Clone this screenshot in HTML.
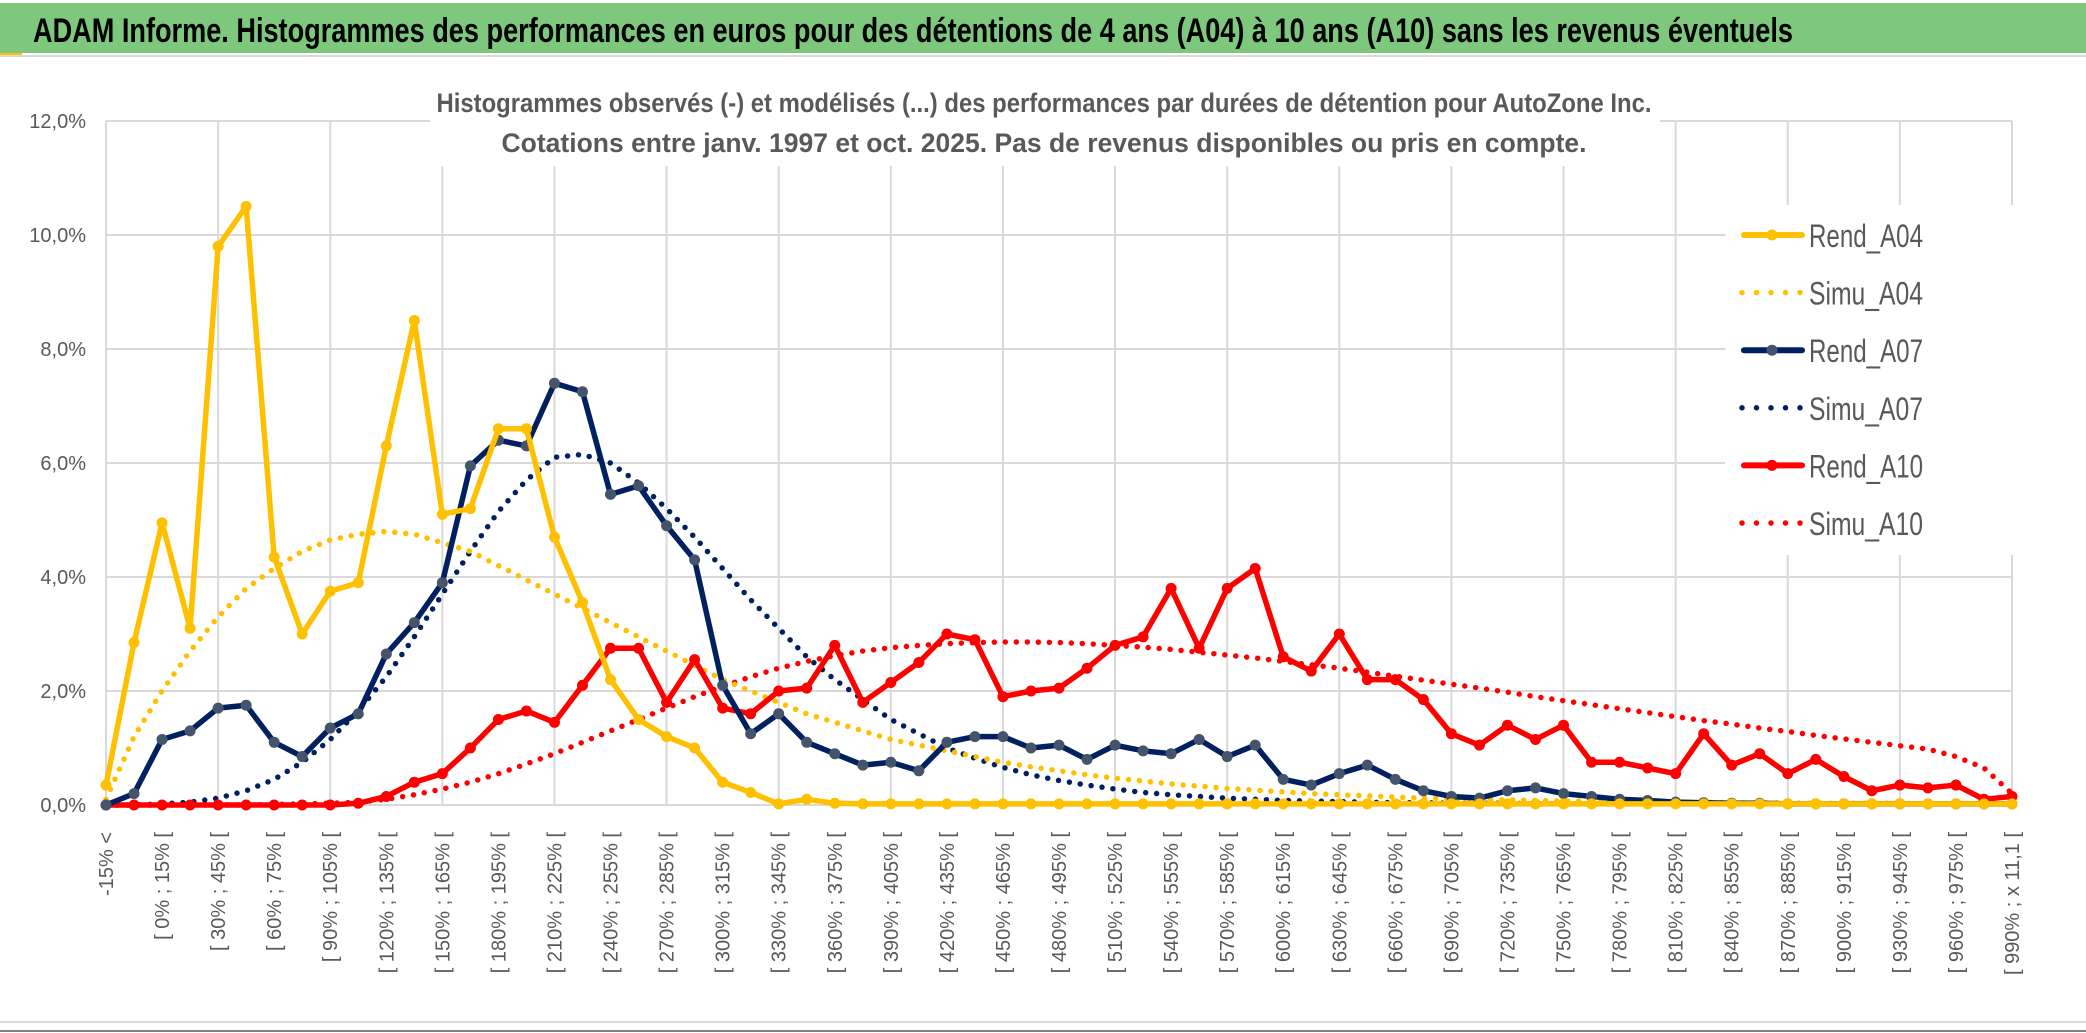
<!DOCTYPE html>
<html><head><meta charset="utf-8"><style>
html,body{margin:0;padding:0;background:#fff}
svg{display:block}
text{font-family:"Liberation Sans",sans-serif}
</style></head><body>
<svg id="chart" width="2086" height="1033" viewBox="0 0 2086 1033" xmlns="http://www.w3.org/2000/svg">
<rect x="0" y="0" width="2086" height="1033" fill="#fff"/>
<rect x="0" y="3" width="2086" height="50" fill="#7dc87d"/>
<rect x="0" y="53" width="22" height="3" fill="#ffc000"/>
<line x1="0" y1="56" x2="2086" y2="56" stroke="#d9d9d9" stroke-width="2"/>
<text x="33" y="42" font-size="34" font-weight="bold" fill="#000" textLength="1760" lengthAdjust="spacingAndGlyphs">ADAM Informe. Histogrammes des performances en euros pour des détentions de 4 ans (A04) à 10 ans (A10) sans les revenus éventuels</text>
<g id="grid"></g>
<rect x="430" y="76" width="1230" height="90" fill="#fff"/>
<rect x="1725" y="205" width="320" height="350" fill="#fff"/>
<text x="1044" y="112" font-size="27" font-weight="bold" fill="#595959" text-anchor="middle" textLength="1215" lengthAdjust="spacingAndGlyphs">Histogrammes observés (-) et modélisés (...) des performances par durées de détention pour AutoZone Inc.</text>
<text x="1044" y="152" font-size="27" font-weight="bold" fill="#595959" text-anchor="middle" textLength="1085" lengthAdjust="spacingAndGlyphs">Cotations entre janv. 1997 et oct. 2025. Pas de revenus disponibles ou pris en compte.</text>
<g id="yaxis"></g>
<g id="xaxis"></g>
<g id="series"></g>
<g id="legend"></g>
<line x1="0" y1="1022" x2="2086" y2="1022" stroke="#d9d9d9" stroke-width="2"/>
<line x1="0" y1="1031" x2="2086" y2="1031" stroke="#808080" stroke-width="2"/>
</svg>
<script>
const yTicks = [0,2,4,6,8,10,12];
const rendA04 = [0.35,2.85,4.95,3.1,9.8,10.5,4.35,3.0,3.75,3.9,6.3,8.5,5.1,5.2,6.6,6.6,4.7,3.55,2.2,1.5,1.2,1.0,0.4,0.22,0.02,0.1,0.03,0.02,0.02,0.02,0.02,0.02,0.02,0.02,0.02,0.02,0.02,0.02,0.02,0.02,0.02,0.02,0.02,0.02,0.02,0.02,0.02,0.02,0.02,0.02,0.02,0.02,0.02,0.02,0.02,0.02,0.02,0.02,0.02,0.02,0.02,0.02,0.02,0.02,0.02,0.02,0.02,0.02,0.02];
const simuA04 = [0.1,1.2,2.0,2.7,3.3,3.8,4.15,4.45,4.65,4.75,4.8,4.75,4.6,4.45,4.2,3.95,3.7,3.45,3.2,2.95,2.7,2.45,2.2,2.0,1.8,1.6,1.45,1.3,1.15,1.05,0.95,0.85,0.75,0.67,0.6,0.53,0.47,0.42,0.37,0.33,0.29,0.26,0.23,0.2,0.18,0.16,0.14,0.12,0.11,0.1,0.09,0.08,0.07,0.07,0.06,0.06,0.05,0.05,0.04,0.04,0.04,0.03,0.03,0.03,0.03,0.02,0.02,0.02,0.02];
const rendA07 = [0.0,0.2,1.15,1.3,1.7,1.75,1.1,0.85,1.35,1.6,2.65,3.2,3.9,5.95,6.4,6.3,7.4,7.25,5.45,5.6,4.9,4.3,2.1,1.25,1.6,1.1,0.9,0.7,0.75,0.6,1.1,1.2,1.2,1.0,1.05,0.8,1.05,0.95,0.9,1.15,0.85,1.05,0.45,0.35,0.55,0.7,0.45,0.25,0.15,0.12,0.25,0.3,0.2,0.15,0.1,0.08,0.05,0.04,0.03,0.03,0.02,0.02,0.02,0.02,0.02,0.02,0.02,0.02,0.02];
const simuA07 = [0,0,0.02,0.05,0.12,0.25,0.45,0.75,1.15,1.65,2.25,2.95,3.7,4.45,5.15,5.7,6.1,6.15,6.0,5.65,5.2,4.7,4.15,3.6,3.1,2.6,2.2,1.85,1.5,1.25,1.0,0.82,0.66,0.53,0.43,0.35,0.28,0.22,0.18,0.15,0.12,0.1,0.08,0.07,0.06,0.05,0.04,0.04,0.03,0.03,0.03,0.02,0.02,0.02,0.02,0.02,0.02,0.02,0.02,0.02,0.02,0.02,0.02,0.02,0.02,0.02,0.02,0.02,0.02];
const rendA10 = [0,0,0,0,0,0,0,0,0,0.03,0.15,0.4,0.55,1.0,1.5,1.65,1.45,2.1,2.75,2.75,1.8,2.55,1.7,1.6,2.0,2.05,2.8,1.8,2.15,2.5,3.0,2.9,1.9,2.0,2.05,2.4,2.8,2.95,3.8,2.75,3.8,4.15,2.6,2.35,3.0,2.2,2.2,1.85,1.25,1.05,1.4,1.15,1.4,0.75,0.75,0.65,0.55,1.25,0.7,0.9,0.55,0.8,0.5,0.25,0.35,0.3,0.35,0.1,0.15];
const simuA10 = [0,0,0,0,0,0,0.01,0.02,0.03,0.05,0.1,0.18,0.28,0.4,0.55,0.72,0.9,1.1,1.3,1.5,1.7,1.9,2.08,2.25,2.4,2.52,2.62,2.7,2.76,2.8,2.83,2.85,2.86,2.86,2.85,2.83,2.8,2.77,2.73,2.68,2.63,2.58,2.52,2.46,2.4,2.33,2.26,2.19,2.12,2.05,1.98,1.9,1.83,1.76,1.69,1.62,1.55,1.48,1.42,1.35,1.29,1.22,1.16,1.1,1.04,0.98,0.85,0.65,0.2];
const categories = (function(){const c=['-15% <','[ -15% ; 0% ['];for(let s=0;s<990;s+=15)c.push('[ '+s+'% ; '+(s+15)+'% [');c.push('[ 990% ; x 11,1 [');return c;})();

const NS='http://www.w3.org/2000/svg';
const X0=106, X1=2012, Y0=805, Y1=121, YMAX=12;
const n=categories.length;
function xs(i){return X0+(X1-X0)*i/(n-1);}
function ys(v){return Y0-(Y0-Y1)*v/YMAX;}
function mk(tag,attrs,parent){const e=document.createElementNS(NS,tag);for(const k in attrs)e.setAttribute(k,attrs[k]);parent.appendChild(e);return e;}
const grid=document.getElementById('grid');
yTicks.forEach(t=>{
  const l=mk('line',{x1:X0,x2:X1,y1:ys(t),y2:ys(t),stroke:'#d9d9d9','stroke-width':2},grid);
  
  
});
for(let i=0;i<n;i+=4){
  const l=mk('line',{x1:xs(i),x2:xs(i),y1:Y1,y2:Y0,stroke:'#d9d9d9','stroke-width':2},grid);
  
  
}
const ya=document.getElementById('yaxis');
yTicks.forEach(t=>{
  const tx=mk('text',{x:86,y:ys(t)+7,'font-size':20,fill:'#595959','text-anchor':'end'},ya);
  tx.textContent=t.toFixed(1).replace('.',',')+'%';
  
  
});
const xa=document.getElementById('xaxis');
for(let i=0;i<n;i+=2){
  const x=xs(i)+7, y=832;
  const tx=mk('text',{x:x,y:y,'font-size':20,fill:'#595959','text-anchor':'end',transform:'rotate(-90 '+x+' '+y+')'},xa);
  tx.textContent=categories[i];
  
  
}
const sg=document.getElementById('series');
function drawSim(data,color,name){
  const pts=data.map((v,i)=>xs(i)+','+ys(v)).join(' ');
  const p=mk('polyline',{points:pts,fill:'none',stroke:color,'stroke-width':5.5,'stroke-linecap':'round','stroke-dasharray':'0 11'},sg);
  
  
}
function drawRend(data,color,mcol,name){
  const pts=data.map((v,i)=>xs(i)+','+ys(v)).join(' ');
  const p=mk('polyline',{points:pts,fill:'none',stroke:color,'stroke-width':5.5,'stroke-linejoin':'round'},sg);
  
  
  data.forEach((v,i)=>{
    const c=mk('circle',{cx:xs(i),cy:ys(v),r:5.5,fill:mcol},sg);
    
    
  });
}
drawSim(simuA10,'#ff0000','simu-a10');
drawSim(simuA07,'#002060','simu-a07');
drawSim(simuA04,'#ffc000','simu-a04');
drawRend(rendA10,'#ff0000','#ff0000','rend-a10');
drawRend(rendA07,'#002060','#44546a','rend-a07');
drawRend(rendA04,'#ffc000','#ffc000','rend-a04');
const lg=document.getElementById('legend');
const entries=[['Rend_A04','#ffc000','#ffc000',false],['Simu_A04','#ffc000',null,true],['Rend_A07','#002060','#44546a',false],['Simu_A07','#002060',null,true],['Rend_A10','#ff0000','#ff0000',false],['Simu_A10','#ff0000',null,true]];
entries.forEach((e,k)=>{
  const y=235+57.6*k;
  const g=mk('g',{},lg);
  
  
  if(e[3]){
    mk('line',{x1:1742,x2:1802,y1:y,y2:y,stroke:e[1],'stroke-width':5.5,'stroke-linecap':'round','stroke-dasharray':'0 14.5'},g);
  }else{
    mk('line',{x1:1744,x2:1802,y1:y,y2:y,stroke:e[1],'stroke-width':6,'stroke-linecap':'round'},g);
    mk('circle',{cx:1772,cy:y,r:5.5,fill:e[2]},g);
  }
  const t=mk('text',{x:1809,y:y+12,'font-size':32,fill:'#595959',textLength:114,lengthAdjust:'spacingAndGlyphs'},g);
  t.textContent=e[0];
});
</script>
</body></html>
